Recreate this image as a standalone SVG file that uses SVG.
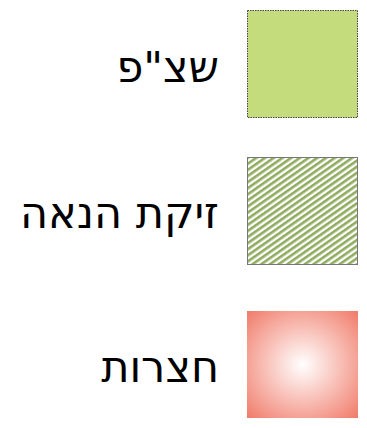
<svg xmlns="http://www.w3.org/2000/svg" width="367" height="428" viewBox="0 0 367 428">
<style>
.lbl{font-family:"DejaVu Sans","Noto Sans",sans-serif;font-size:43px;fill:#000;text-anchor:end}
</style>
<defs>
<pattern id="hatch" width="5" height="5" patternUnits="userSpaceOnUse" patternTransform="rotate(-35)">
<rect width="5" height="5" fill="#ffffff"/>
<rect width="5" height="2.6" fill="#8fab5e"/>
</pattern>
<radialGradient id="rg" cx="0.5" cy="0.5" r="0.72">
<stop offset="0" stop-color="#ffffff"/>
<stop offset="1" stop-color="#f07866"/>
</radialGradient>
</defs>
<g id="legend1">
<rect x="247.5" y="10.5" width="110" height="107" fill="#c5dc7c" stroke="#444" stroke-width="1" stroke-dasharray="1.5 1"/>
<text class="lbl" x="219" y="82">שצ"פ</text>
</g>
<g id="legend2">
<rect x="247.5" y="157.5" width="110" height="107" fill="url(#hatch)" stroke="#777" stroke-width="1"/>
<text class="lbl" x="219" y="228">זיקת הנאה</text>
</g>
<g id="legend3">
<rect x="247" y="311" width="111" height="107" fill="url(#rg)"/>
<text class="lbl" x="219" y="382">חצרות</text>
</g>
</svg>
